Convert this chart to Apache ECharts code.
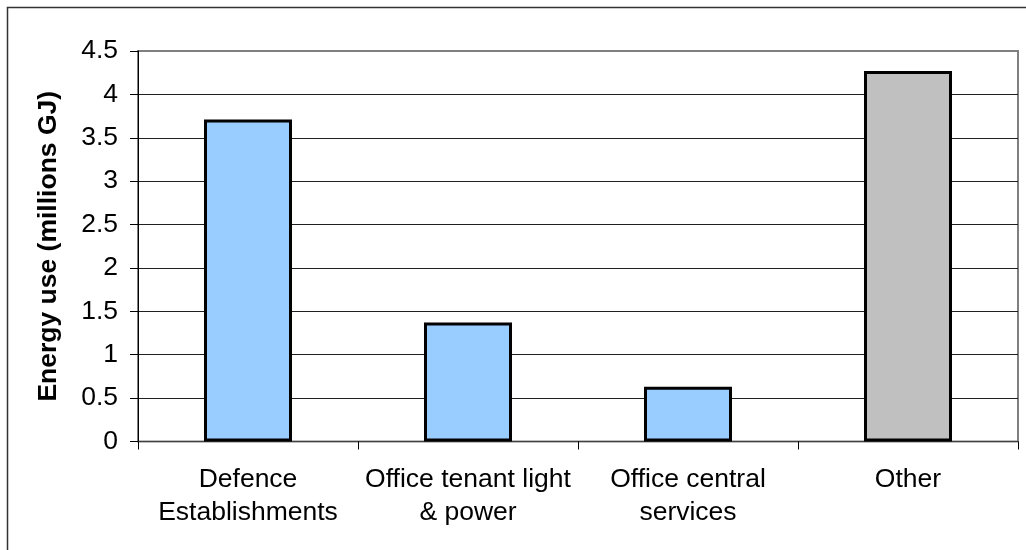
<!DOCTYPE html>
<html>
<head>
<meta charset="utf-8">
<script src="https://cdn.jsdelivr.net/npm/echarts@6/dist/echarts.min.js"></script>
<style>
  html, body { margin: 0; padding: 0; background: #fff; }
  #chart { width: 1026px; height: 550px; }
</style>
</head>
<body>
<div id="chart"></div>
<script>
// Energy use by end-use category (millions GJ)
const categories = [
  'Defence\nEstablishments',
  'Office tenant light\n& power',
  'Office central\nservices',
  'Other'
];
const energyUse = [3.71, 1.37, 0.63, 4.27];
const barColors = ['#99CCFF', '#99CCFF', '#99CCFF', '#C0C0C0'];
const yAxisTitle = 'Energy use (millions GJ)';

const FONT = '"Liberation Sans", Arial, sans-serif';

const chart = echarts.init(document.getElementById('chart'), null, { renderer: 'canvas' });

chart.setOption({
  backgroundColor: '#ffffff',
  animation: false,
  textStyle: { fontFamily: FONT },
  graphic: [{
    type: 'rect',
    z: 100,
    silent: true,
    shape: { x: 7.5, y: 7.5, width: 1100, height: 600 },
    style: { fill: 'none', stroke: '#333', lineWidth: 1.5 }
  }],
  grid: {
    left: 138,
    right: 8,
    top: 51,
    bottom: 108.5,
    show: true,
    borderColor: '#808080',
    borderWidth: 2,
    containLabel: false
  },
  xAxis: {
    type: 'category',
    data: categories,
    boundaryGap: true,
    axisLine: { show: true, lineStyle: { color: '#404040', width: 1 } },
    axisTick: { show: true, alignWithLabel: false, length: 8, lineStyle: { color: '#000', width: 1 } },
    axisLabel: {
      interval: 0,
      margin: 22,
      color: '#000',
      fontFamily: FONT,
      fontSize: 26.5,
      lineHeight: 33
    },
    splitLine: { show: false }
  },
  yAxis: {
    type: 'value',
    min: 0,
    max: 4.5,
    interval: 0.5,
    name: yAxisTitle,
    nameLocation: 'middle',
    nameGap: 76,
    nameTextStyle: {
      fontFamily: FONT,
      fontSize: 26.5,
      fontWeight: 'bold',
      color: '#000'
    },
    axisLine: { show: true, lineStyle: { color: '#000', width: 1 } },
    axisTick: { show: true, length: 8, lineStyle: { color: '#000', width: 1 } },
    axisLabel: {
      margin: 20,
      color: '#000',
      fontFamily: FONT,
      fontSize: 26.5
    },
    splitLine: {
      show: true,
      showMaxLine: false,
      lineStyle: { color: '#202020', width: 1 }
    }
  },
  series: [{
    type: 'bar',
    barWidth: '40%',
    data: energyUse.map((v, i) => ({
      value: v,
      itemStyle: { color: barColors[i] }
    })),
    itemStyle: {
      borderColor: '#000',
      borderWidth: 3
    }
  }]
});
</script>
</body>
</html>
